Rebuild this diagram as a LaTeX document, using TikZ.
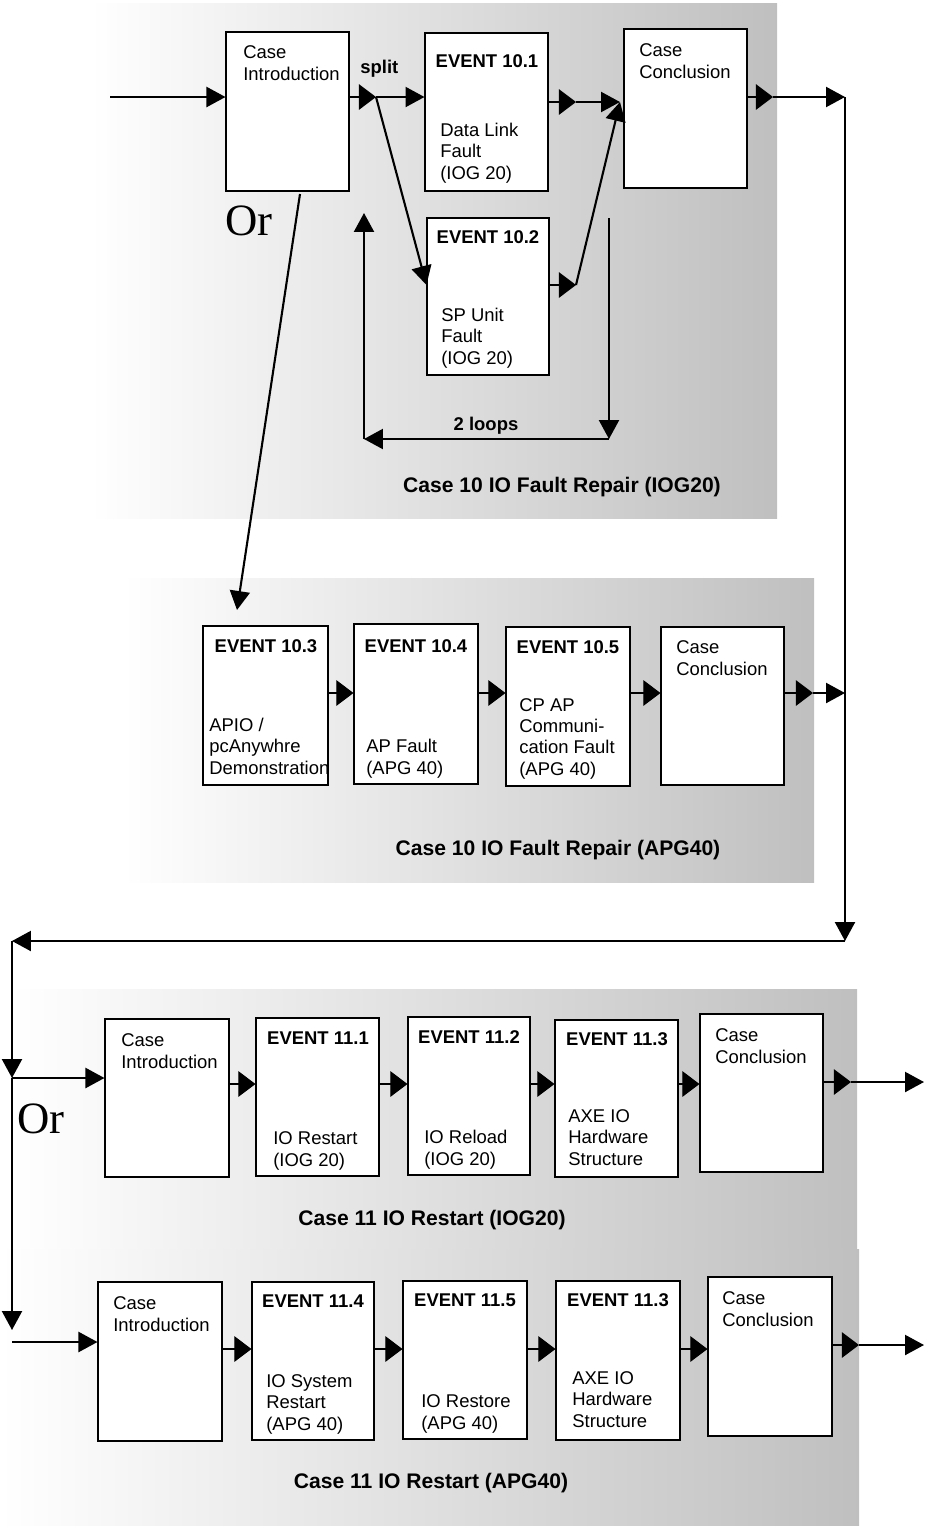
\documentclass[tikz,border=0pt]{standalone}
\usepackage{fontspec}
\setmainfont{Liberation Sans}
\newfontfamily\orfont{Liberation Serif}
\usetikzlibrary{arrows.meta,fit}

\tikzset{panel_style/.style={left color=white, right color=black!25}}
\tikzset{box_style/.style={draw, fill=white, line width=0.6pt, inner sep=0pt}}
\tikzset{title_style/.style={font=\fontsize{10.5}{12}\selectfont\bfseries, anchor=base, inner sep=0pt}}
\tikzset{text_style/.style={font=\fontsize{10.5}{12}\selectfont, anchor=base west, align=left, inner sep=0pt}}
\tikzset{label_style/.style={font=\fontsize{12}{14}\selectfont\bfseries, anchor=base, inner sep=0pt}}
\tikzset{or_style/.style={font=\orfont\fontsize{25.5}{28}\selectfont, anchor=base west, inner sep=0pt}}
\tikzset{stub_style/.style={line width=0.6pt, -{Triangle[length=9.7pt, width=14.5pt]}}}
\tikzset{link_style/.style={line width=1.2pt, -{Triangle[length=10.8pt, width=11.4pt]}}}

\begin{document}
\begin{tikzpicture}[x=0.02cm, y=-0.02cm]
    \useasboundingbox (0,0) rectangle (926,1526);

    \shade[panel_style] (90,3) rectangle (777,518);
    \shade[panel_style] (123,578) rectangle (814,882);
    \shade[panel_style] (10,989) rectangle (857,1249);
    \shade[panel_style] (0,1249) rectangle (859,1526);

    \node[box_style, fit={(226,32) (349,191)}] (ci1) {};
    \node[text_style] (ci1t) at (243,80) {Case\\Introduction};
    \node[box_style, fit={(425,33) (548,191)}] (e101) {};
    \node[title_style] (e101h) at (487,67) {EVENT 10.1};
    \node[text_style] (e101t) at (440,179) {Data Link\\Fault\\(IOG 20)};
    \node[box_style, fit={(624,29) (747,188)}] (cc1) {};
    \node[text_style] (cc1t) at (639,78) {Case\\Conclusion};
    \node[box_style, fit={(427,218) (549,375)}] (e102) {};
    \node[title_style] (e102h) at (488,243) {EVENT 10.2};
    \node[text_style] (e102t) at (441,364) {SP Unit\\Fault\\(IOG 20)};
    \node[text_style, font=\fontsize{10.5}{12}\selectfont\bfseries] (splt) at (360,73) {split};
    \node[title_style] (loops) at (486,430) {2 loops};
    \node[or_style] (or1) at (225,235) {Or};
    \node[label_style] (cap1) at (562,492) {Case 10 IO Fault Repair (IOG20)};

    \node[box_style, fit={(203,626) (328,785)}] (e103) {};
    \node[title_style] (e103h) at (266,652) {EVENT 10.3};
    \node[text_style] (e103t) at (209,774) {APIO /\\pcAnywhre\\Demonstration};
    \node[box_style, fit={(354,624) (478,784)}] (e104) {};
    \node[title_style] (e104h) at (416,652) {EVENT 10.4};
    \node[text_style] (e104t) at (366,774) {AP Fault\\(APG 40)};
    \node[box_style, fit={(506,627) (630,786)}] (e105) {};
    \node[title_style] (e105h) at (568,653) {EVENT 10.5};
    \node[text_style] (e105t) at (519,775) {CP AP\\Communi-\\cation Fault\\(APG 40)};
    \node[box_style, fit={(661,627) (784,785)}] (cc2) {};
    \node[text_style] (cc2t) at (676,675) {Case\\Conclusion};
    \node[label_style] (cap2) at (558,855) {Case 10 IO Fault Repair (APG40)};

    \node[box_style, fit={(105,1019) (229,1177)}] (ci3) {};
    \node[text_style] (ci3t) at (121,1068) {Case\\Introduction};
    \node[box_style, fit={(256,1018) (379,1176)}] (e111) {};
    \node[title_style] (e111h) at (318,1044) {EVENT 11.1};
    \node[text_style] (e111t) at (273,1166) {IO Restart\\(IOG 20)};
    \node[box_style, fit={(408,1017) (530,1175)}] (e112) {};
    \node[title_style] (e112h) at (469,1043) {EVENT 11.2};
    \node[text_style] (e112t) at (424,1165) {IO Reload\\(IOG 20)};
    \node[box_style, fit={(555,1020) (678,1177)}] (e113) {};
    \node[title_style] (e113h) at (617,1045) {EVENT 11.3};
    \node[text_style] (e113t) at (568,1165) {AXE IO\\Hardware\\Structure};
    \node[box_style, fit={(700,1014) (823,1172)}] (cc3) {};
    \node[text_style] (cc3t) at (715,1063) {Case\\Conclusion};
    \node[or_style] (or2) at (17,1133) {Or};
    \node[label_style] (cap3) at (432,1225) {Case 11 IO Restart (IOG20)};

    \node[box_style, fit={(98,1282) (222,1441)}] (ci4) {};
    \node[text_style] (ci4t) at (113,1331) {Case\\Introduction};
    \node[box_style, fit={(252,1282) (374,1440)}] (e114) {};
    \node[title_style] (e114h) at (313,1307) {EVENT 11.4};
    \node[text_style] (e114t) at (266,1430) {IO System\\Restart\\(APG 40)};
    \node[box_style, fit={(403,1281) (527,1439)}] (e115) {};
    \node[title_style] (e115h) at (465,1306) {EVENT 11.5};
    \node[text_style] (e115t) at (421,1429) {IO Restore\\(APG 40)};
    \node[box_style, fit={(556,1281) (680,1440)}] (e113b) {};
    \node[title_style] (e113bh) at (618,1306) {EVENT 11.3};
    \node[text_style] (e113bt) at (572,1427) {AXE IO\\Hardware\\Structure};
    \node[box_style, fit={(708,1277) (832,1436)}] (cc4) {};
    \node[text_style] (cc4t) at (722,1326) {Case\\Conclusion};
    \node[label_style] (cap4) at (431,1488) {Case 11 IO Restart (APG40)};

    \coordinate (in1) at (110,97);
    \coordinate (split) at (376,97);
    \coordinate (j1) at (576,102);
    \coordinate (j2) at (576,285);
    \coordinate (meet) at (620,102);
    \coordinate (lpA) at (609,218);
    \coordinate (lpB) at (609,439);
    \coordinate (lpC) at (364,439);
    \coordinate (lpD) at (364,213);
    \coordinate (orA) at (300,194);
    \coordinate (orB) at (237,610);
    \coordinate (r1) at (773,97);
    \coordinate (r2) at (845,97);
    \coordinate (r3) at (845,941);
    \coordinate (r4) at (12,941);
    \coordinate (q1) at (813,693);
    \coordinate (l1) at (12,1078);
    \coordinate (l2) at (12,1330);
    \coordinate (l3) at (12,1342);
    \coordinate (s1) at (851,1082);
    \coordinate (s2) at (924,1082);
    \coordinate (t1) at (859,1345);
    \coordinate (t2) at (924,1345);
    \coordinate (row2) at (0,693);
    \coordinate (row3) at (0,1084);
    \coordinate (row4) at (0,1349);

    \draw[link_style] (in1) -- (ci1.west |- in1);
    \draw[stub_style] (ci1.east |- split) -- (split);
    \draw[link_style] (split) -- (e101.west |- split);
    \draw[link_style] (split) -- (e102.west |- j2);
    \draw[stub_style] (e101.east |- j1) -- (j1);
    \draw[link_style] (j1) -- (meet);
    \draw[stub_style] (e102.east |- j2) -- (j2);
    \draw[link_style] (j2) -- (meet);
    \draw[link_style] (lpA) -- (lpB);
    \draw[link_style] (lpB) -- (lpC);
    \draw[link_style] (lpC) -- (lpD);
    \draw[link_style] (orA) -- (orB);
    \draw[stub_style] (cc1.east |- r1) -- (r1);
    \draw[link_style] (r1) -- (r2);
    \draw[link_style] (r2) -- (r3);
    \draw[link_style] (r3) -- (r4);

    \draw[stub_style] (e103.east |- row2) -- (e104.west |- row2);
    \draw[stub_style] (e104.east |- row2) -- (e105.west |- row2);
    \draw[stub_style] (e105.east |- row2) -- (cc2.west |- row2);
    \draw[stub_style] (cc2.east |- q1) -- (q1);
    \draw[link_style] (q1) -- (q1 -| r2);

    \draw[link_style] (r4) -- (l1);
    \draw[link_style] (l1) -- (ci3.west |- l1);
    \draw[link_style] (l1) -- (l2);
    \draw[stub_style] (ci3.east |- row3) -- (e111.west |- row3);
    \draw[stub_style] (e111.east |- row3) -- (e112.west |- row3);
    \draw[stub_style] (e112.east |- row3) -- (e113.west |- row3);
    \draw[stub_style] (e113.east |- row3) -- (cc3.west |- row3);
    \draw[stub_style] (cc3.east |- s1) -- (s1);
    \draw[link_style] (s1) -- (s2);

    \draw[link_style] (l3) -- (ci4.west |- l3);
    \draw[stub_style] (ci4.east |- row4) -- (e114.west |- row4);
    \draw[stub_style] (e114.east |- row4) -- (e115.west |- row4);
    \draw[stub_style] (e115.east |- row4) -- (e113b.west |- row4);
    \draw[stub_style] (e113b.east |- row4) -- (cc4.west |- row4);
    \draw[stub_style] (cc4.east |- t1) -- (t1);
    \draw[link_style] (t1) -- (t2);
\end{tikzpicture}
\end{document}
